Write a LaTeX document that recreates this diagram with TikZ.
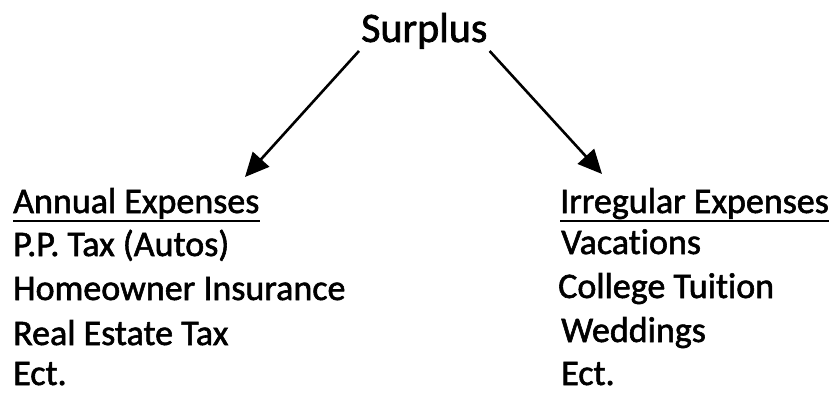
\documentclass[tikz,border=0pt]{standalone}
\usepackage{fontspec}
\setmainfont{Carlito}[Ligatures=NoCommon, RawFeature={embolden=1.6}]
\usetikzlibrary{arrows.meta}

\begin{document}
\begin{tikzpicture}[x=1pt,y=-1pt]
\tikzstyle{title} = [anchor=base west, inner sep=2pt, font=\fontsize{42}{50}\selectfont]
\tikzstyle{item} = [anchor=base west, inner sep=0pt, font=\fontsize{36}{44}\selectfont]
\tikzstyle{arrow} = [draw=black, line width=2.6pt, -{Triangle[length=24pt,width=22pt]}]
\tikzstyle{rule} = [draw=black, line width=2.4pt]

\useasboundingbox (0,0) rectangle (836,394);

\node[title] (surplus) at (359,42) {Surplus};

\node[item] (annual) at (13,213) {Annual Expenses};
\node[item] (pptax) at (13,256) {P.P. Tax (Autos)};
\node[item] (home) at (13,300) {Homeowner Insurance};
\node[item] (estate) at (13,345) {Real Estate Tax};
\node[item] (ectA) at (13,385) {Ect.};

\node[item] (irregular) at (560,213) {Irregular Expenses};
\node[item] (vacation) at (561,254) {Vacations};
\node[item] (college) at (558,298) {College Tuition};
\node[item] (wedding) at (561,342) {Weddings};
\node[item] (ectB) at (561,385) {Ect.};

\coordinate (annualtip) at (245,177);
\coordinate (irregulartip) at (602,174);

\draw[arrow] (surplus.south west) -- (annualtip);
\draw[arrow] (surplus.south east) -- (irregulartip);

\draw[rule] ([yshift=-8pt]annual.base west) -- ([yshift=-8pt]annual.base east);
\draw[rule] ([yshift=-8pt]irregular.base west) -- ([yshift=-8pt]irregular.base east);
\end{tikzpicture}
\end{document}
